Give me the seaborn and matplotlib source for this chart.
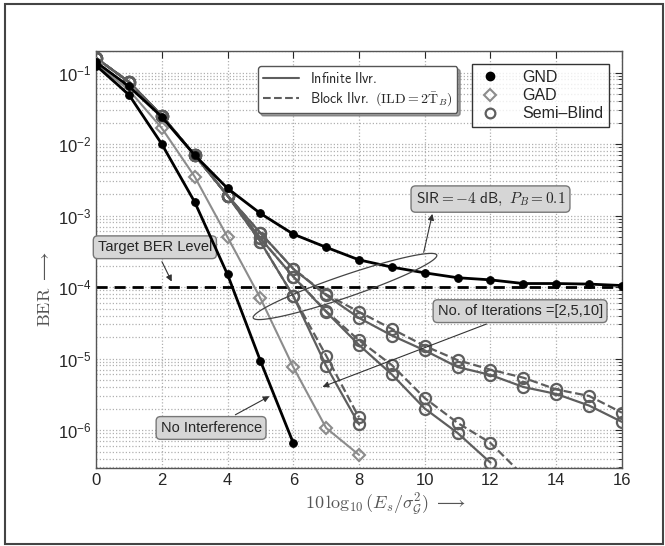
import numpy as np
import seaborn as sns
import matplotlib.pyplot as plt
from matplotlib.lines import Line2D
from matplotlib.patches import Polygon, Rectangle
from matplotlib.ticker import LogLocator, NullFormatter

# data (BER vs 10log10(Es/sigma^2))
snr = np.arange(0, 17)

gnd_noint = [1.25e-1, 4.9e-2, 1.0e-2, 1.55e-3, 1.5e-4, 9.3e-6, 6.6e-7]
gad_noint = [1.3e-1, 5.7e-2, 1.67e-2, 3.5e-3, 5.0e-4, 7.0e-5, 7.6e-6, 1.07e-6, 4.5e-7]
gnd_int = [1.4e-1, 6.4e-2, 2.4e-2, 7.0e-3, 2.4e-3, 1.07e-3, 5.5e-4, 3.6e-4, 2.4e-4,
           1.9e-4, 1.58e-4, 1.35e-4, 1.26e-4, 1.12e-4, 1.12e-4, 1.1e-4, 1.05e-4]

sb_start = [1.6e-1, 7.4e-2, 2.5e-2, 7.0e-3, 1.9e-3]
sb2_inf = sb_start + [5.7e-4, 1.8e-4, 7.7e-5, 3.7e-5, 2.1e-5, 1.3e-5, 7.6e-6, 5.9e-6, 4.0e-6, 3.2e-6, 2.2e-6, 1.3e-6]
sb2_blk = sb_start + [5.7e-4, 1.8e-4, 7.9e-5, 4.5e-5, 2.6e-5, 1.5e-5, 9.5e-6, 7.0e-6, 5.4e-6, 3.7e-6, 3.0e-6, 1.75e-6]
sb5_inf = sb_start + [4.8e-4, 1.4e-4, 4.5e-5, 1.55e-5, 6.0e-6, 2.0e-6, 9.1e-7, 3.5e-7]
sb5_blk = sb_start + [4.8e-4, 1.4e-4, 4.6e-5, 1.8e-5, 8.1e-6, 2.8e-6, 1.26e-6, 6.6e-7, 2.3e-7]
sb10_inf = sb_start + [4.3e-4, 7.5e-5, 7.9e-6, 1.2e-6]
sb10_blk = sb_start + [4.3e-4, 7.5e-5, 1.1e-5, 1.5e-6]

target_ber = 1e-4

sns.set_style("white")
plt.rcParams['font.family'] = ['Liberation Sans', 'DejaVu Sans']

fig = plt.figure(figsize=(6.65, 5.46), dpi=100)
ax = fig.add_axes([0.1444, 0.1429, 0.7909, 0.7637])

sb_col = '#5e5e5e'
gad_col = '#8c8c8c'

# target BER level
ax.axhline(target_ber, color='black', lw=2.0, ls=(0, (4, 2.5)), zorder=2)

# semi-blind curves (iterations 2, 5, 10)
for vals, ls in [(sb2_inf, '-'), (sb2_blk, '--'), (sb5_inf, '-'), (sb5_blk, '--'),
                 (sb10_inf, '-'), (sb10_blk, '--')]:
    sns.lineplot(x=snr[:len(vals)], y=vals, ax=ax, color=sb_col, lw=1.6, ls=ls,
                 marker='o', markersize=8, markerfacecolor='none',
                 markeredgecolor=sb_col, markeredgewidth=1.6, zorder=3)

# GAD without interference
sns.lineplot(x=snr[:len(gad_noint)], y=gad_noint, ax=ax, color=gad_col, lw=1.5,
             marker='D', markersize=6, markerfacecolor='none',
             markeredgecolor=gad_col, markeredgewidth=1.5, zorder=3)

# GND with / without interference
for vals in [gnd_int, gnd_noint]:
    sns.lineplot(x=snr[:len(vals)], y=vals, ax=ax, color='black', lw=2.0,
                 marker='o', markersize=5.5, markerfacecolor='black',
                 markeredgecolor='black', zorder=4)

ax.set_yscale('log')
ax.set_xlim(0, 16)
ax.set_ylim(2.95e-7, 2.0e-1)
ax.set_xticks(range(0, 17, 2))
ax.yaxis.set_major_locator(LogLocator(base=10, numticks=12))
ax.yaxis.set_minor_locator(LogLocator(base=10, subs=np.arange(2, 10), numticks=12))
ax.yaxis.set_minor_formatter(NullFormatter())
ax.tick_params(which='both', direction='in', top=True, right=True, labelsize=12)
ax.tick_params(which='major', length=5)
ax.tick_params(which='minor', length=3)

ax.grid(True, which='major', axis='both', color='#b0b0b0', ls=(0, (1, 1.6)), lw=0.9)
ax.grid(True, which='minor', axis='y', color='#b0b0b0', ls=(0, (1, 1.6)), lw=0.9)
for s in ax.spines.values():
    s.set_color('#555555')
    s.set_linewidth(1.0)

ax.set_xlabel(r'$10\,\log_{10}(E_s/\sigma_{\mathcal{G}}^2)\ \longrightarrow$',
              fontsize=13, color='#555555', math_fontfamily='cm')
ax.xaxis.set_label_coords(0.55, -0.055)
ax.set_ylabel(r'$\mathrm{BER}\ \longrightarrow$', fontsize=13, color='#555555',
              math_fontfamily='cm')
ax.yaxis.set_label_coords(-0.08, 0.43)

# legends
h1 = [Line2D([], [], color=sb_col, lw=1.5, ls='-'),
      Line2D([], [], color=sb_col, lw=1.5, ls='--')]
leg1 = ax.legend(h1, [r'$\mathsf{Infinite\ Ilvr.}$',
                      r'$\mathsf{Block\ Ilvr.}\ (\mathrm{ILD}=2\bar{\mathrm{T}}_B)$'],
                 loc='upper left', bbox_to_anchor=(0.295, 0.98), fontsize=10,
                 frameon=True, fancybox=True, shadow=True, handlelength=2.6,
                 borderpad=0.35, labelspacing=0.3, edgecolor='#555555')
for t in leg1.get_texts():
    t.set_math_fontfamily('cm')
ax.add_artist(leg1)

h2 = [Line2D([], [], ls='none', marker='o', markersize=6, color='black'),
      Line2D([], [], ls='none', marker='D', markersize=6, markerfacecolor='none',
             markeredgecolor=gad_col, markeredgewidth=1.5),
      Line2D([], [], ls='none', marker='o', markersize=7, markerfacecolor='none',
             markeredgecolor=sb_col, markeredgewidth=1.6)]
leg2 = ax.legend(h2, ['GND', 'GAD', 'Semi\u2013Blind'], loc='upper right',
                 bbox_to_anchor=(0.99, 0.987), fontsize=11.5, frameon=True,
                 fancybox=False, shadow=False, edgecolor='black',
                 borderpad=0.35, labelspacing=0.2, handletextpad=1.2,
                 handlelength=1.6)
leg2.get_frame().set_linewidth(1.0)

# annotations
box = dict(boxstyle='round,pad=0.3', fc='#d6d6d6', ec='#777777', lw=1.0)
arr = dict(arrowstyle='-|>', color='#333333', lw=0.8, mutation_scale=9)

ax.annotate('Target BER Level', xy=(2.34, 1.1e-4), xytext=(1.79, 3.6e-4),
            ha='center', va='center', fontsize=10.5, bbox=box, arrowprops=arr)
ax.annotate('No Interference', xy=(5.35, 3.1e-6), xytext=(3.5, 1.07e-6),
            ha='center', va='center', fontsize=10.5, bbox=box, arrowprops=arr)
ax.annotate('No. of Iterations =[2,5,10]', xy=(6.81, 3.9e-6), xytext=(12.9, 4.6e-5),
            ha='center', va='center', fontsize=10.5, bbox=box, arrowprops=arr)
ax.annotate(r'$\mathsf{SIR}=-4\ \mathsf{dB},\ P_B=0.1$', xy=(12.0, 1.7e-3),
            ha='center', va='center', fontsize=11, bbox=box, math_fontfamily='cm')
ax.annotate('', xy=(10.25, 1.15e-3), xytext=(9.95, 2.8e-4), arrowprops=arr)

# tilted ellipse around the interference curves (drawn in axes fraction)
t = np.linspace(0, 2 * np.pi, 200)
th = np.deg2rad(18.9)
a, b = 97.0, 11.0
cx, cy = 345.0, 286.5
dx = a * np.cos(t) * np.cos(th) - b * np.sin(t) * np.sin(th)
dy = a * np.cos(t) * np.sin(th) + b * np.sin(t) * np.cos(th)
ex = (cx + dx - 96) / 526
ey = (468 - (cy - dy)) / 417
ax.add_patch(Polygon(np.column_stack([ex, ey]), closed=True, fill=False,
                     ec='#444444', lw=0.9, transform=ax.transAxes, zorder=5))

# outer frame of the figure
fig.patches.append(Rectangle((5 / 665, 2 / 546), 658 / 665, 540 / 546, fill=False,
                             ec='#444444', lw=1.5, transform=fig.transFigure))

plt.savefig('out.png', dpi=100)
